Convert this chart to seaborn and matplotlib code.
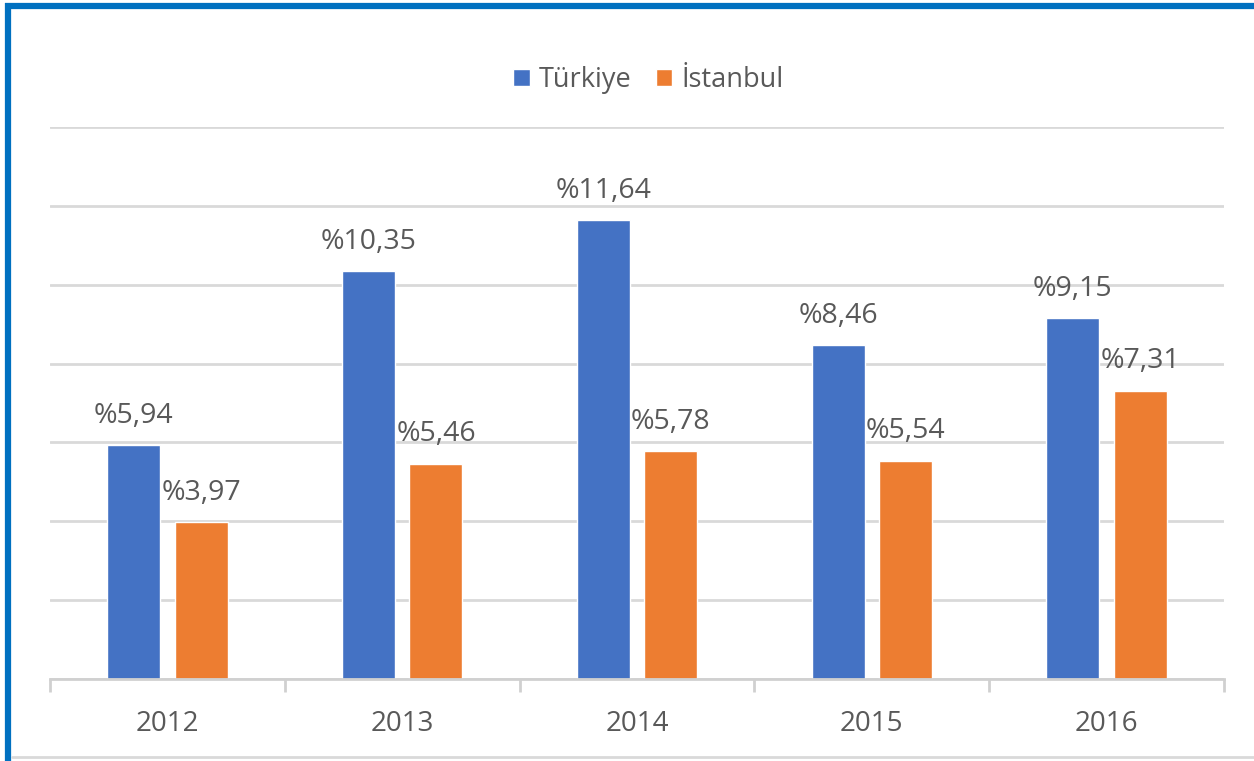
import pandas as pd
import seaborn as sns
import matplotlib.pyplot as plt
from matplotlib.lines import Line2D

# Chart data
years = ['2012', '2013', '2014', '2015', '2016']
turkiye = [5.94, 10.35, 11.64, 8.46, 9.15]
istanbul = [3.97, 5.46, 5.78, 5.54, 7.31]
series_names = ['Türkiye', 'İstanbul']

df = pd.DataFrame({
    'Yıl': years * 2,
    'Bölge': [series_names[0]] * len(years) + [series_names[1]] * len(years),
    'Oran': turkiye + istanbul,
})

sns.set_style('white')
plt.rcParams['font.family'] = ['Open Sans', 'DejaVu Sans']
text_color = '#595959'

fig = plt.figure(figsize=(12.54, 7.61), dpi=100)
ax = fig.add_axes([50 / 1254, 82 / 761, 1174 / 1254, 552 / 761])

sns.barplot(data=df, x='Yıl', y='Oran', hue='Bölge', palette=['#4472C4', '#ED7D31'],
            width=0.575, gap=0.215, saturation=1, ax=ax, legend=True)

# Data labels like "%5,94"
for cont, vals in zip(ax.containers, [turkiye, istanbul]):
    labels = ['%' + f'{v:.2f}'.replace('.', ',') for v in vals]
    ax.bar_label(cont, labels=labels, padding=11, fontsize=20.5, color=text_color)

ax.set_ylim(0, 14)
ax.set_xlim(-0.5, 4.5)
ax.set_yticks(range(0, 15, 2))
ax.yaxis.grid(True, color='#d9d9d9', linewidth=2)
ax.set_axisbelow(True)
ax.tick_params(axis='y', left=False, labelleft=False)
ax.set_xlabel('')
ax.set_ylabel('')

# Category axis with boundary tick marks
ax.set_xticks(range(5))
ax.set_xticklabels(years, fontsize=20, color=text_color)
ax.tick_params(axis='x', which='major', length=0, pad=22)
ax.set_xticks([i - 0.5 for i in range(6)], minor=True)
ax.tick_params(axis='x', which='minor', bottom=True, length=9, width=2,
               color='#d0d0d0', direction='out')
for side in ['top', 'right', 'left']:
    ax.spines[side].set_visible(False)
ax.spines['bottom'].set_color('#d0d0d0')
ax.spines['bottom'].set_linewidth(2)

# Legend at the top
leg = ax.legend(loc='center', bbox_to_anchor=(0.51, 1.085), ncol=2, frameon=False,
                fontsize=19.5, handlelength=0.6, handleheight=0.6, handletextpad=0.35,
                columnspacing=0.9)
for t in leg.get_texts():
    t.set_color(text_color)

# Frame of the screenshot: blue on top and left, gray at bottom
fig.add_artist(Line2D([5 / 1254, 1], [1 - 6 / 761, 1 - 6 / 761], color='#0070C0', linewidth=4.5,
                      transform=fig.transFigure, solid_capstyle='butt'))
fig.add_artist(Line2D([8 / 1254, 8 / 1254], [0, 1 - 3 / 761], color='#0070C0', linewidth=4.5,
                      transform=fig.transFigure, solid_capstyle='butt'))
fig.add_artist(Line2D([12 / 1254, 1], [4 / 761, 4 / 761], color='#d9d9d9', linewidth=2,
                      transform=fig.transFigure))

fig.savefig('out.png', dpi=100)
